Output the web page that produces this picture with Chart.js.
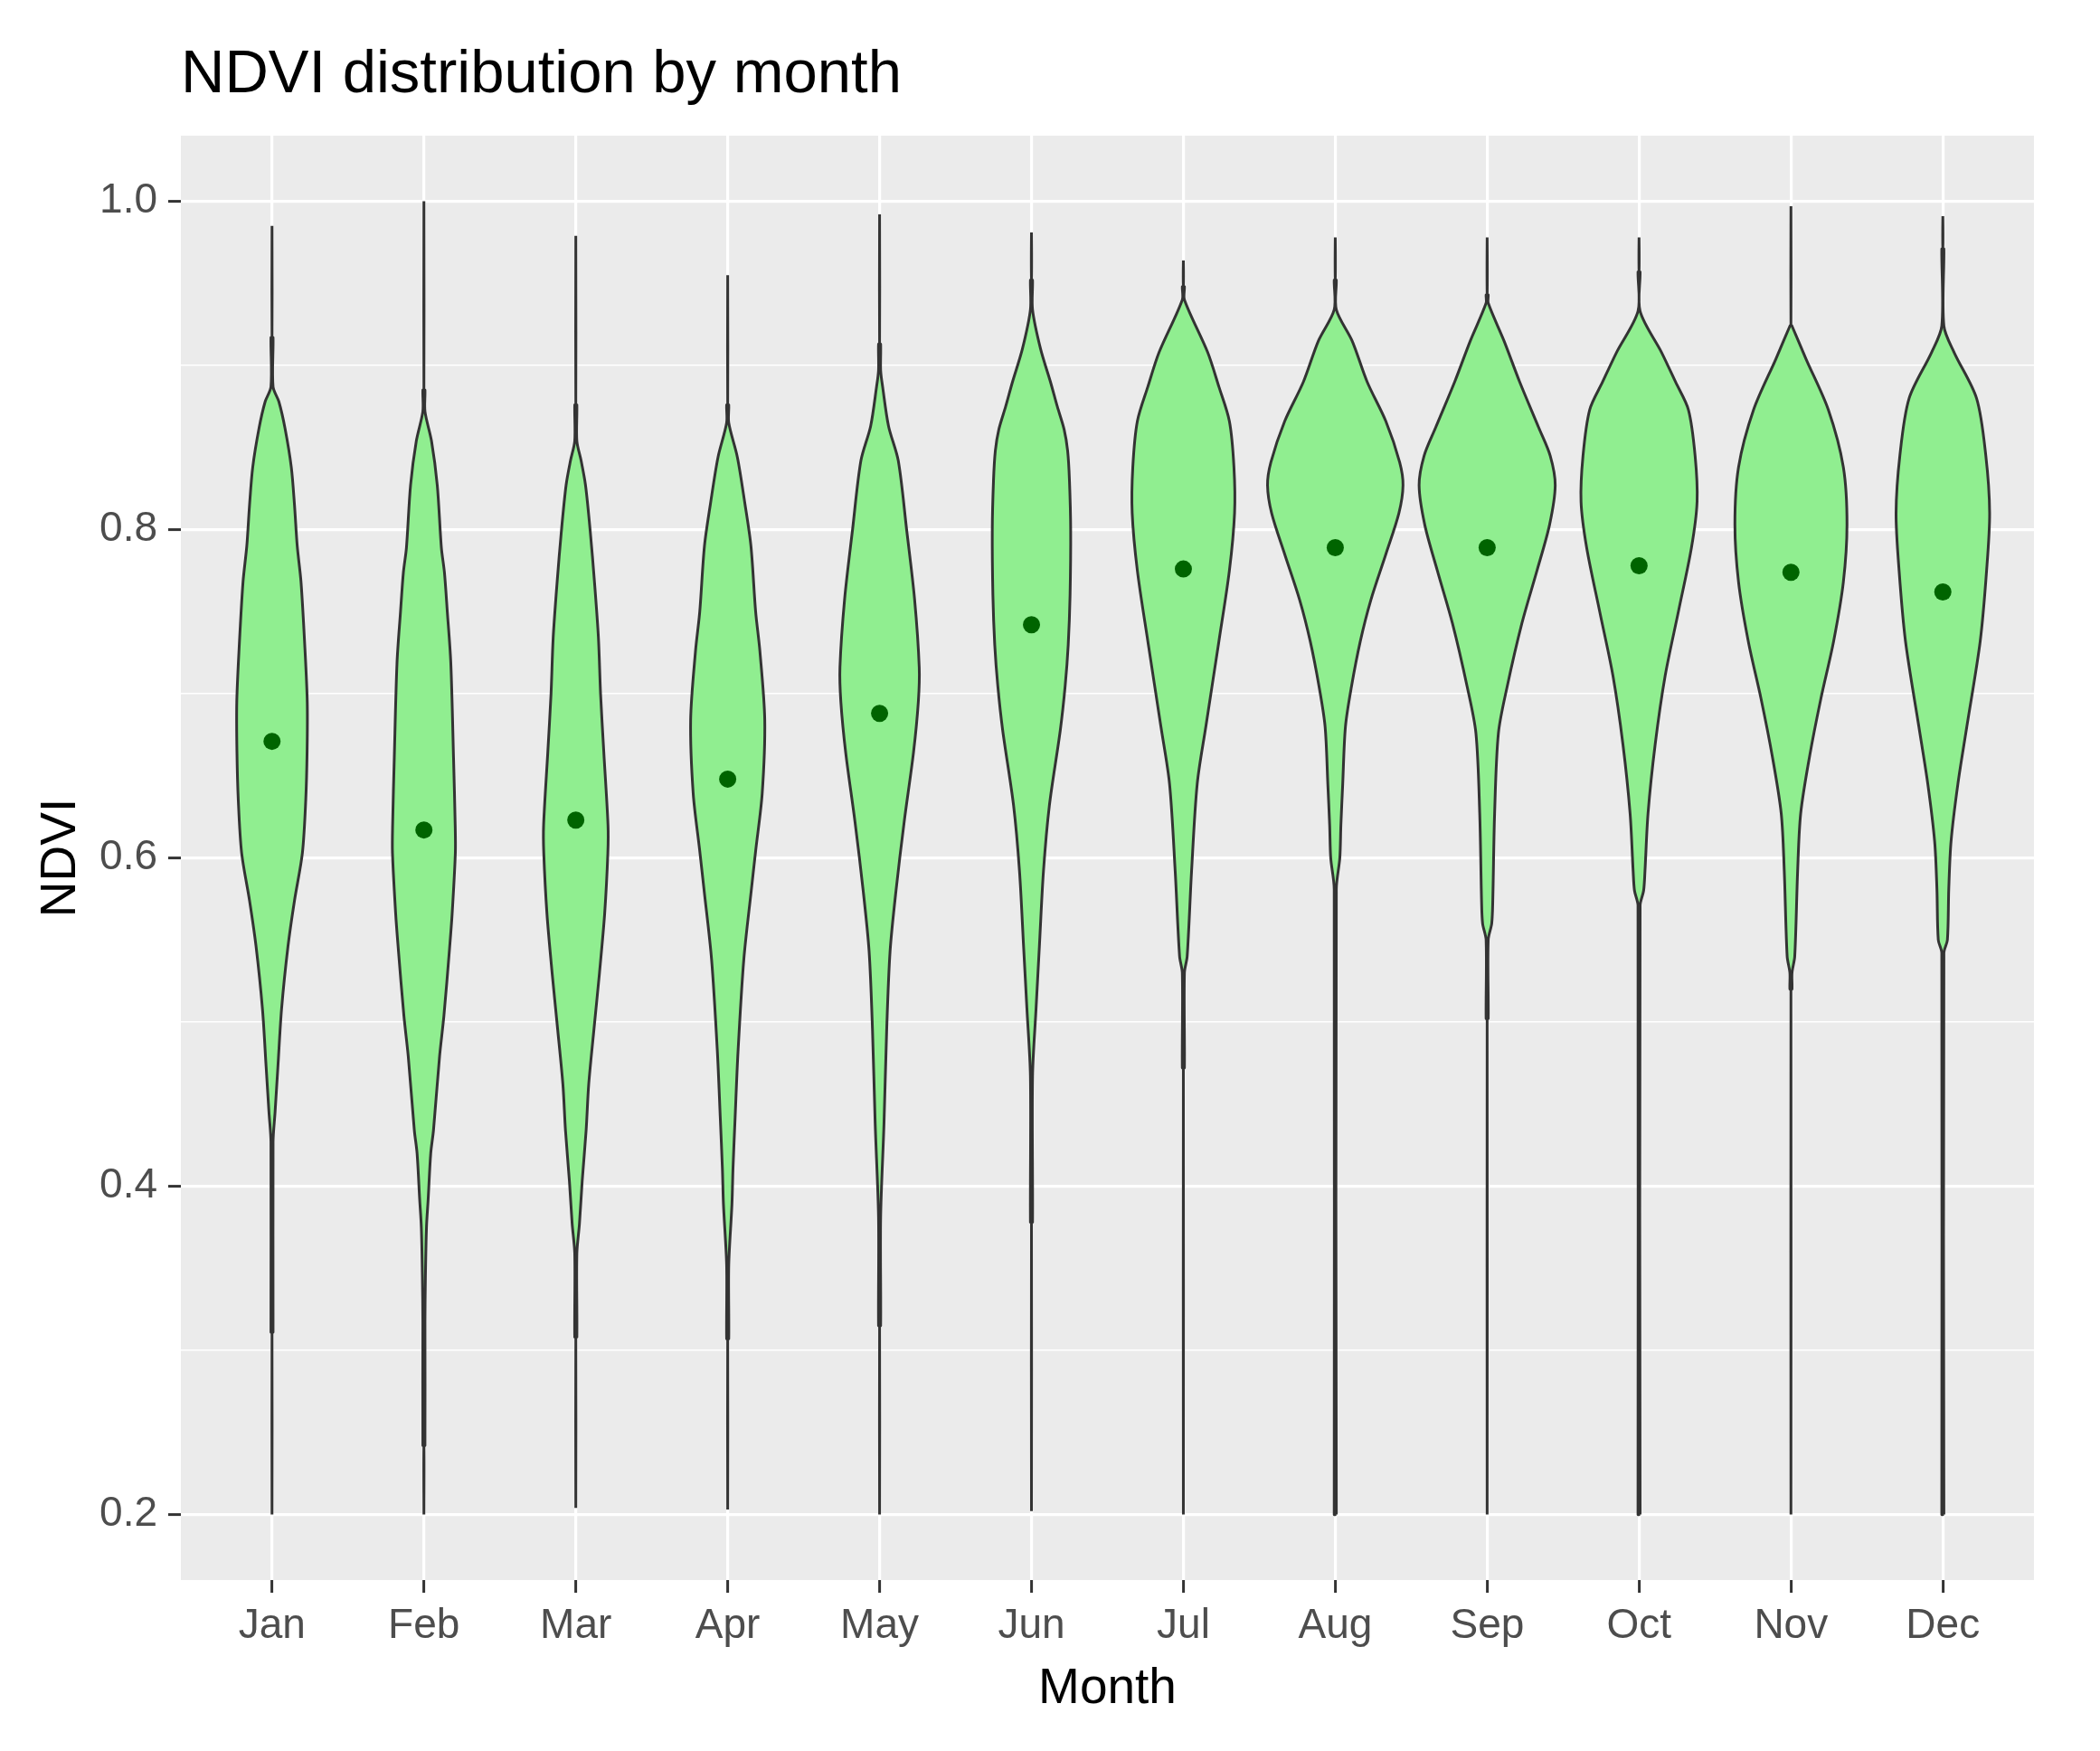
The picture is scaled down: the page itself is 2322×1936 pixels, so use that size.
<!DOCTYPE html>
<html>
<head>
<meta charset="utf-8">
<script src="https://cdn.jsdelivr.net/npm/chart.js@4.4.0/dist/chart.umd.min.js"></script>
<style>
html,body{margin:0;padding:0;background:#ffffff;}
#wrap{width:2322px;height:1936px;position:relative;}
</style>
</head>
<body>
<div id="wrap"><canvas id="c"></canvas></div>
<script>
// ---------- data ----------
const months = ['Jan','Feb','Mar','Apr','May','Jun','Jul','Aug','Sep','Oct','Nov','Dec'];
const meanNDVI = [0.671,0.617,0.623,0.648,0.688,0.742,0.776,0.789,0.789,0.778,0.774,0.762];
const yMajorTicks = [0.2,0.4,0.6,0.8,1.0];
const yMinorTicks = [0.3,0.5,0.7,0.9];

// violin outlines: [NDVI, half-width in month units], bottom to top
const janProfile = [[0.200,0],[0.311,0],[0.311,0.007],[0.427,0.007],[0.445,0.020],[0.473,0.039],[0.508,0.063],[0.546,0.105],[0.574,0.148],[0.603,0.200],[0.635,0.222],[0.665,0.231],[0.695,0.232],[0.727,0.217],[0.768,0.191],[0.790,0.166],[0.815,0.148],[0.838,0.127],[0.862,0.085],[0.878,0.045],[0.887,0.007],[0.917,0.007],[0.917,0],[0.985,0]];
const febProfile = [[0.200,0],[0.242,0],[0.242,0.007],[0.317,0.007],[0.345,0.010],[0.375,0.017],[0.392,0.028],[0.420,0.045],[0.434,0.063],[0.479,0.103],[0.504,0.132],[0.545,0.169],[0.566,0.186],[0.603,0.207],[0.620,0.206],[0.661,0.195],[0.719,0.177],[0.750,0.154],[0.774,0.135],[0.789,0.115],[0.827,0.088],[0.854,0.050],[0.872,0.007],[0.885,0.007],[0.885,0],[1.000,0]];
const marProfile = [[0.204,0],[0.308,0],[0.308,0.007],[0.359,0.007],[0.377,0.024],[0.403,0.042],[0.434,0.068],[0.462,0.085],[0.496,0.120],[0.530,0.156],[0.566,0.190],[0.603,0.211],[0.620,0.212],[0.665,0.184],[0.700,0.163],[0.734,0.149],[0.768,0.123],[0.799,0.095],[0.827,0.064],[0.842,0.035],[0.854,0.007],[0.876,0.007],[0.876,0],[0.979,0]];
const aprProfile = [[0.203,0],[0.307,0],[0.307,0.007],[0.352,0.007],[0.389,0.028],[0.411,0.035],[0.442,0.049],[0.482,0.068],[0.538,0.106],[0.580,0.155],[0.605,0.185],[0.639,0.227],[0.684,0.244],[0.726,0.212],[0.750,0.184],[0.790,0.153],[0.816,0.113],[0.844,0.064],[0.865,0.007],[0.876,0.007],[0.876,0],[0.955,0]];
const mayProfile = [[0.200,0],[0.315,0],[0.315,0.007],[0.381,0.007],[0.438,0.029],[0.496,0.047],[0.543,0.069],[0.580,0.108],[0.622,0.162],[0.664,0.223],[0.695,0.255],[0.716,0.261],[0.758,0.230],[0.800,0.178],[0.842,0.123],[0.863,0.059],[0.887,0.020],[0.897,0.007],[0.913,0.007],[0.913,0],[0.992,0]];
const junProfile = [[0.202,0],[0.378,0],[0.378,0.007],[0.467,0.007],[0.508,0.030],[0.546,0.052],[0.592,0.079],[0.632,0.118],[0.678,0.190],[0.705,0.222],[0.730,0.242],[0.760,0.254],[0.800,0.258],[0.830,0.250],[0.848,0.238],[0.861,0.215],[0.875,0.170],[0.890,0.125],[0.910,0.060],[0.934,0.007],[0.952,0.007],[0.952,0],[0.981,0]];
const julProfile = [[0.200,0],[0.472,0],[0.472,0.007],[0.530,0.007],[0.540,0.025],[0.592,0.054],[0.645,0.091],[0.680,0.148],[0.732,0.234],[0.775,0.303],[0.810,0.337],[0.838,0.333],[0.866,0.303],[0.887,0.234],[0.908,0.160],[0.940,0.007],[0.948,0.007],[0.948,0],[0.964,0]];
const augProfile = [[0.200,0.007],[0.581,0.007],[0.600,0.030],[0.620,0.037],[0.645,0.049],[0.680,0.067],[0.704,0.106],[0.732,0.165],[0.757,0.234],[0.785,0.333],[0.810,0.419],[0.827,0.446],[0.841,0.424],[0.866,0.333],[0.890,0.210],[0.915,0.111],[0.934,0.007],[0.952,0.007],[0.952,0],[0.978,0]];
const sepProfile = [[0.200,0],[0.502,0],[0.502,0.007],[0.550,0.007],[0.560,0.030],[0.574,0.037],[0.627,0.049],[0.676,0.074],[0.704,0.131],[0.743,0.229],[0.775,0.328],[0.803,0.411],[0.827,0.448],[0.845,0.415],[0.862,0.340],[0.890,0.214],[0.915,0.111],[0.938,0.007],[0.943,0.007],[0.943,0],[0.978,0]];
const octProfile = [[0.200,0.007],[0.571,0.007],[0.580,0.030],[0.592,0.039],[0.627,0.059],[0.669,0.106],[0.711,0.172],[0.750,0.259],[0.789,0.345],[0.817,0.382],[0.845,0.369],[0.873,0.325],[0.890,0.240],[0.908,0.148],[0.933,0.007],[0.957,0.007],[0.957,0],[0.978,0]];
const novProfile = [[0.200,0],[0.520,0],[0.520,0.007],[0.530,0.007],[0.540,0.025],[0.592,0.044],[0.627,0.064],[0.662,0.123],[0.697,0.197],[0.732,0.281],[0.768,0.345],[0.803,0.369],[0.838,0.345],[0.873,0.246],[0.904,0.099],[0.924,0.007],[0.925,0],[0.997,0]];
const decProfile = [[0.200,0.007],[0.542,0.007],[0.550,0.030],[0.581,0.039],[0.610,0.054],[0.645,0.099],[0.680,0.158],[0.732,0.246],[0.775,0.288],[0.810,0.308],[0.845,0.283],[0.880,0.222],[0.908,0.074],[0.924,0.007],[0.971,0.007],[0.971,0],[0.991,0]];

const profiles = [janProfile,febProfile,marProfile,aprProfile,mayProfile,junProfile,julProfile,augProfile,sepProfile,octProfile,novProfile,decProfile];

// ---------- chart ----------
const FONT = '"Liberation Sans", Arial, Helvetica, sans-serif';
const yGridValues = yMajorTicks.concat(yMinorTicks).sort((a,b)=>a-b);
const isMajor = v => yMajorTicks.some(m => Math.abs(m - v) < 1e-9);

const violinSets = profiles.map((p, i) => {
  const c = i + 1;
  const right = p.map(([v, w]) => ({x: c + w, y: v}));
  const left = p.slice(0, -1).reverse().map(([v, w]) => ({x: c - w, y: v}));
  return {
    type: 'line',
    label: months[i],
    data: right.concat(left, [right[0]]),
    borderColor: '#333333',
    borderWidth: 3,
    backgroundColor: '#90EE90',
    fill: 'shape',
    pointRadius: 0,
    tension: 0.3,
    order: 1
  };
});

const meanSet = {
  type: 'scatter',
  label: 'mean',
  data: meanNDVI.map((v, i) => ({x: i + 1, y: v})),
  backgroundColor: '#006400',
  borderColor: '#006400',
  borderWidth: 0,
  pointRadius: 9.5,
  order: 0
};

const panelBg = {
  id: 'panelBg',
  beforeDraw(chart) {
    const {ctx, chartArea: a} = chart;
    ctx.save();
    ctx.fillStyle = '#ffffff';
    ctx.fillRect(0, 0, chart.width, chart.height);
    ctx.fillStyle = '#EBEBEB';
    ctx.fillRect(a.left, a.top, a.right - a.left, a.bottom - a.top);
    ctx.restore();
  }
};

new Chart(document.getElementById('c'), {
  type: 'scatter',
  data: {datasets: [meanSet].concat(violinSets)},
  plugins: [panelBg],
  options: {
    responsive: true,
    maintainAspectRatio: false,
    devicePixelRatio: 1,
    animation: false,
    events: [],
    layout: {padding: {left: 0, right: 73, top: 0, bottom: 0}},
    plugins: {
      legend: {display: false},
      tooltip: {enabled: false},
      title: {
        display: true,
        text: 'NDVI distribution by month',
        align: 'start',
        fullSize: false,
        color: '#000000',
        font: {family: FONT, size: 67, weight: 'normal', lineHeight: 1.2},
        padding: {top: 43.8, bottom: 25.8}
      }
    },
    scales: {
      x: {
        type: 'linear',
        min: 0.4,
        max: 12.6,
        afterBuildTicks: s => { s.ticks = months.map((m, i) => ({value: i + 1})); },
        afterFit: s => { s.height = 189; },
        ticks: {
          callback: (v, i) => months[i],
          autoSkip: false,
          maxRotation: 0,
          minRotation: 0,
          color: '#4D4D4D',
          font: {family: FONT, size: 46},
          padding: 9.5
        },
        grid: {color: '#FFFFFF', lineWidth: 3.2, drawTicks: true, tickLength: 14, tickColor: '#333333', tickWidth: 3},
        border: {display: false},
        title: {display: true, text: 'Month', color: '#000000', font: {family: FONT, size: 55}, padding: {top: 0, bottom: 35}}
      },
      y: {
        type: 'linear',
        min: 0.16,
        max: 1.04,
        afterBuildTicks: s => { s.ticks = yGridValues.map(v => ({value: v})); },
        afterFit: s => { s.width = 200; },
        ticks: {
          callback: v => isMajor(v) ? v.toFixed(1) : '',
          autoSkip: false,
          color: '#4D4D4D',
          font: {family: FONT, size: 46},
          padding: 12
        },
        grid: {
          color: '#FFFFFF',
          lineWidth: c => (c.tick && isMajor(c.tick.value)) ? 3.2 : 1.6,
          drawTicks: true,
          tickLength: 14,
          tickWidth: 3,
          tickColor: c => (c.tick && isMajor(c.tick.value)) ? '#333333' : 'rgba(0,0,0,0)'
        },
        border: {display: false},
        title: {display: true, text: 'NDVI', color: '#000000', font: {family: FONT, size: 55}, padding: {top: 35, bottom: 0}}
      }
    }
  }
});
</script>
</body>
</html>
